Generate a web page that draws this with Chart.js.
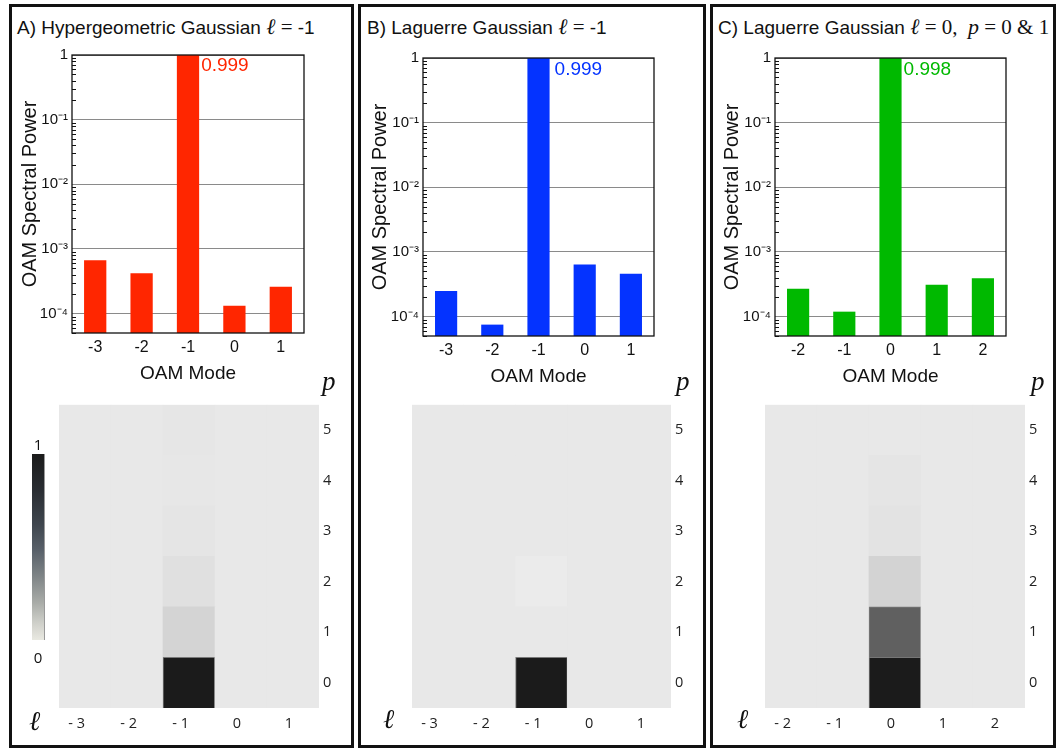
<!DOCTYPE html>
<html>
<head>
<meta charset="utf-8">
<script src="https://cdn.jsdelivr.net/npm/chart.js@4.4.0/dist/chart.umd.min.js"></script>
<style>
  html, body { margin: 0; padding: 0; background: #fff; }
  body { width: 1058px; height: 748px; position: relative; overflow: hidden;
         font-family: "Liberation Sans", Arial, Helvetica, sans-serif; color: #111; }
  .panel { position: absolute; top: 4px; height: 744px; box-sizing: border-box; border: 3px solid #111; }
  .title { position: absolute; top: 17px; font-size: 19px; line-height: 19px; white-space: nowrap; }
  .it { font-family: "Liberation Serif", "DejaVu Serif", serif; font-style: italic; font-size: 22px; }
  .rm { font-family: "Liberation Serif", "DejaVu Serif", serif; font-size: 21px; }
  canvas { position: absolute; }
  .sym { position: absolute; font-family: "Liberation Serif", "DejaVu Serif", serif; font-style: italic;
         font-size: 27px; line-height: 27px; color: #111; }
  .cbar { position: absolute; left: 32px; top: 454px; width: 13px; height: 186px; box-sizing: border-box;
          border-right: 1px solid #999;
          background: linear-gradient(to bottom, #1b1b1b 0%, #2a2e33 20%, #3f464e 38%, #59616a 52%,
                      #7f8587 66%, #a9aca8 80%, #cfd0ca 91%, #e9e9e1 100%); }
  .cbl { position: absolute; font-family: "Open Sans", "DejaVu Sans", sans-serif; font-size: 15px;
         line-height: 15px; width: 20px; text-align: center; color: #111; }
</style>
</head>
<body>

<div class="panel" style="left:9px;width:345px"></div>
<div class="panel" style="left:358px;width:348px"></div>
<div class="panel" style="left:710px;width:346px"></div>

<div class="title" style="left:17px">A) Hypergeometric Gaussian <span class="it">ℓ</span> <span class="rm">=</span> -1</div>
<div class="title" style="left:367px">B) Laguerre Gaussian <span class="it">ℓ</span> <span class="rm">=</span> -1</div>
<div class="title" style="left:718px">C) Laguerre Gaussian <span class="it">ℓ</span><span class="rm"> = 0,&nbsp; </span><span class="it">p</span><span class="rm"> = 0 &amp; 1</span></div>

<canvas id="barA"></canvas>
<canvas id="barB"></canvas>
<canvas id="barC"></canvas>
<canvas id="heatA"></canvas>
<canvas id="heatB"></canvas>
<canvas id="heatC"></canvas>

<div class="cbar"></div>
<div class="cbl" style="left:28px;top:437px">1</div>
<div class="cbl" style="left:28px;top:650px">0</div>

<div class="sym" style="left:322px;top:368px">p</div>
<div class="sym" style="left:676px;top:368px">p</div>
<div class="sym" style="left:1031px;top:368px">p</div>
<div class="sym" style="left:29px;top:708px">ℓ</div>
<div class="sym" style="left:383px;top:706px">ℓ</div>
<div class="sym" style="left:737px;top:706px">ℓ</div>

<script>
// ---- OAM spectra (bar charts) ----
const modesAB = ['-3', '-2', '-1', '0', '1'];
const modesC  = ['-2', '-1', '0', '1', '2'];
const powerA = [6.7e-4, 4.2e-4, 0.999, 1.32e-4, 2.6e-4];
const powerB = [2.48e-4, 7.5e-5, 0.999, 6.4e-4, 4.6e-4];
const powerC = [2.7e-4, 1.19e-4, 0.998, 3.1e-4, 3.9e-4];

// ---- (ℓ, p) mode maps: rows p = 0..5, columns follow the ℓ labels ----
const ellAB = ['- 3', '- 2', '- 1', '0', '1'];
const ellC  = ['- 2', '- 1', '0', '1', '2'];
const pIndex = [0, 1, 2, 3, 4, 5];
const heatA = [
  [0.015, 0.015, 1.000, 0.015, 0.015],
  [0.015, 0.015, 0.110, 0.015, 0.015],
  [0.015, 0.015, 0.053, 0.015, 0.015],
  [0.015, 0.015, 0.029, 0.015, 0.015],
  [0.015, 0.015, 0.019, 0.015, 0.015],
  [0.015, 0.015, 0.024, 0.015, 0.015]
];
const heatB = [
  [0.015, 0.015, 1.000, 0.015, 0.015],
  [0.015, 0.015, 0.015, 0.015, 0.015],
  [0.015, 0.015, 0.000, 0.015, 0.015],
  [0.015, 0.015, 0.015, 0.015, 0.015],
  [0.015, 0.015, 0.015, 0.015, 0.015],
  [0.015, 0.015, 0.015, 0.015, 0.015]
];
const heatC = [
  [0.015, 0.015, 1.000, 0.015, 0.015],
  [0.015, 0.015, 0.668, 0.015, 0.015],
  [0.015, 0.015, 0.115, 0.015, 0.015],
  [0.015, 0.015, 0.038, 0.015, 0.015],
  [0.015, 0.015, 0.029, 0.015, 0.015],
  [0.015, 0.015, 0.015, 0.015, 0.015]
];

Chart.defaults.font.family = '"Liberation Sans", Arial, Helvetica, sans-serif';
Chart.defaults.color = '#111';
Chart.defaults.animation = false;

const SUP = { '-': '⁻', '0': '⁰', '1': '¹', '2': '²', '3': '³', '4': '⁴', '5': '⁵', '6': '⁶', '7': '⁷', '8': '⁸', '9': '⁹' };
const isDecade = v => Math.abs(Math.log10(v) - Math.round(Math.log10(v))) < 1e-9;
function decadeLabel(v) {
  if (!isDecade(v)) return '';
  const e = Math.round(Math.log10(v));
  if (e === 0) return '1';
  return '10' + String(e).split('').map(c => SUP[c]).join('');
}

function placeCanvas(id, box) {
  const c = document.getElementById(id);
  c.width = box.w; c.height = box.h;
  c.style.left = box.x + 'px'; c.style.top = box.y + 'px';
  c.style.width = box.w + 'px'; c.style.height = box.h + 'px';
  return c;
}

// frame around the plotting area plus short inner minor ticks on the log axis
const framePlugin = {
  id: 'frame',
  afterDatasetsDraw(chart) {
    const a = chart.chartArea, ctx = chart.ctx, y = chart.scales.y;
    ctx.save();
    ctx.strokeStyle = '#111';
    ctx.lineWidth = 1;
    y.ticks.forEach(t => {
      if (isDecade(t.value)) return;
      const py = Math.round(y.getPixelForValue(t.value)) + 0.5;
      ctx.beginPath(); ctx.moveTo(a.left, py); ctx.lineTo(a.left + 4, py); ctx.stroke();
    });
    ctx.lineWidth = 1.3;
    ctx.strokeRect(a.left, a.top, a.right - a.left, a.bottom - a.top);
    ctx.restore();
  }
};

// prints the dominant mode's power beside its bar
const peakLabelPlugin = {
  id: 'peakLabel',
  afterDatasetsDraw(chart, args, opts) {
    const ds = chart.data.datasets[0];
    const vals = ds.data;
    let k = 0;
    vals.forEach((v, i) => { if (v > vals[k]) k = i; });
    const el = chart.getDatasetMeta(0).data[k];
    const ctx = chart.ctx;
    ctx.save();
    ctx.fillStyle = ds.backgroundColor;
    ctx.font = '19px "Liberation Sans", Arial, sans-serif';
    ctx.textAlign = 'left';
    ctx.textBaseline = 'middle';
    ctx.fillText(vals[k].toFixed(3), el.x + el.width / 2 + opts.gap, chart.chartArea.top + opts.dy);
    ctx.restore();
  }
};

function barChart(id, box, area, labels, values, color, gap, dy) {
  const c = placeCanvas(id, box);
  return new Chart(c, {
    type: 'bar',
    data: {
      labels: labels,
      datasets: [{ data: values, backgroundColor: color, borderWidth: 0,
                   barPercentage: 0.48, categoryPercentage: 1 }]
    },
    options: {
      responsive: false,
      devicePixelRatio: 1,
      layout: { autoPadding: false,
                padding: { left: 0, top: area.t - box.y, right: box.x + box.w - area.r, bottom: 0 } },
      plugins: { legend: { display: false }, tooltip: { enabled: false },
                 peakLabel: { gap: gap, dy: dy } },
      scales: {
        x: {
          grid: { display: false, drawTicks: false },
          border: { display: false },
          ticks: { font: { size: 16 }, color: '#111', padding: 5 },
          title: { display: true, text: 'OAM Mode', font: { size: 19 }, color: '#111',
                   padding: { top: 7, bottom: 0 } },
          afterFit: s => { s.height = box.y + box.h - area.b; }
        },
        y: {
          type: 'logarithmic', min: 5e-5, max: 1,
          afterBuildTicks: s => {
            const t = [];
            for (let e = -5; e <= 0; e++) {
              for (let k = 1; k <= 9; k++) {
                const v = k * Math.pow(10, e);
                if (v >= 5e-5 * 0.999999 && v <= 1.000001) t.push({ value: v });
              }
            }
            s.ticks = t;
          },
          grid: { drawTicks: false, lineWidth: 1,
                  color: ctx => (ctx.tick && isDecade(ctx.tick.value)) ? '#8a8a8a' : 'rgba(0,0,0,0)' },
          border: { display: false },
          ticks: { autoSkip: false, font: { size: 15 }, color: '#111', padding: 4,
                   callback: v => decadeLabel(v) },
          title: { display: true, text: 'OAM Spectral Power', font: { size: 20 }, color: '#111',
                   padding: { top: 6, bottom: 0 } },
          afterFit: s => { s.width = area.l - box.x; }
        }
      }
    },
    plugins: [framePlugin, peakLabelPlugin]
  });
}

function grayOf(v) {
  const g = Math.round(235 - 208 * v);
  return 'rgb(' + g + ',' + g + ',' + g + ')';
}

function heatChart(id, box, area, ellLabels, grid) {
  const c = placeCanvas(id, box);
  return new Chart(c, {
    type: 'bar',
    data: {
      labels: ellLabels,
      datasets: grid.map((row, p) => ({
        data: row.map(() => [pIndex[p] - 0.5, pIndex[p] + 0.5]),
        backgroundColor: row.map(grayOf),
        borderColor: row.map(v => v > 0.3 ? 'rgba(110,110,110,0.9)' : 'rgba(0,0,0,0)'),
        borderWidth: row.map(v => v > 0.3 ? 1 : 0),
        grouped: false, barPercentage: 1, categoryPercentage: 1
      }))
    },
    options: {
      responsive: false,
      devicePixelRatio: 1,
      layout: { autoPadding: false,
                padding: { left: area.l - box.x, top: area.t - box.y, right: 0, bottom: 0 } },
      plugins: { legend: { display: false }, tooltip: { enabled: false } },
      scales: {
        x: {
          grid: { display: false, drawTicks: false },
          border: { display: false },
          ticks: { align: 'end', color: '#222', padding: 7,
                   font: { family: '"Open Sans", "DejaVu Sans", sans-serif', size: 14.5 } },
          afterFit: s => { s.height = box.y + box.h - area.b; }
        },
        y: {
          type: 'linear', position: 'right', min: -0.5, max: 5.5,
          afterBuildTicks: s => { s.ticks = pIndex.map(v => ({ value: v })); },
          grid: { display: false, drawTicks: false },
          border: { display: false },
          ticks: { color: '#222', padding: 4,
                   font: { family: '"Open Sans", "DejaVu Sans", sans-serif', size: 14.5 } },
          afterFit: s => { s.width = box.x + box.w - area.r; }
        }
      }
    }
  });
}

barChart('barA', { x: 12, y: 40, w: 338, h: 345 }, { l: 72, r: 304, t: 55, b: 333 },
         modesAB, powerA, '#ff2600', 2, 11);
barChart('barB', { x: 362, y: 40, w: 340, h: 348 }, { l: 423, r: 654, t: 58, b: 336 },
         modesAB, powerB, '#0433ff', 5, 12);
barChart('barC', { x: 714, y: 40, w: 338, h: 348 }, { l: 775, r: 1006, t: 58, b: 336 },
         modesC, powerC, '#00b900', 2, 12);

heatChart('heatA', { x: 12, y: 392, w: 338, h: 350 }, { l: 59, r: 319, t: 401, b: 708 }, ellAB, heatA);
heatChart('heatB', { x: 362, y: 392, w: 340, h: 350 }, { l: 412, r: 671, t: 401, b: 708 }, ellAB, heatB);
heatChart('heatC', { x: 714, y: 392, w: 338, h: 350 }, { l: 765, r: 1025, t: 403, b: 708 }, ellC, heatC);
</script>
</body>
</html>
